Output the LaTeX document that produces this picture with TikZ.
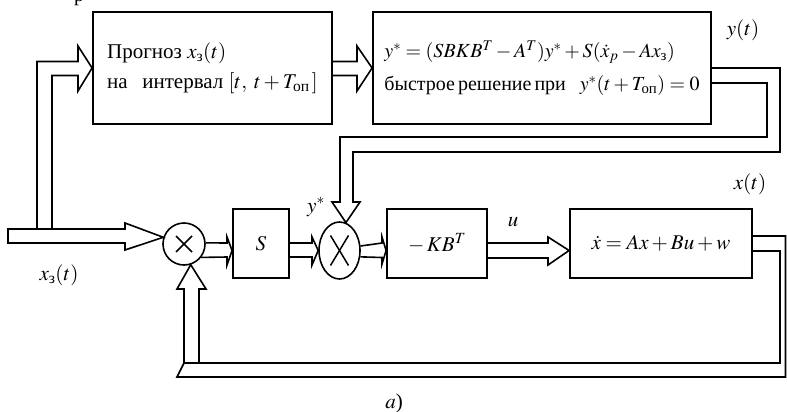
\documentclass[tikz,border=0pt]{standalone}
\usepackage{amsmath}
\usepackage{mathptmx}
\usepackage{fontspec}
\setmainfont{Liberation Serif}
\usetikzlibrary{shapes.geometric,calc}
\begin{document}
\begin{tikzpicture}[x=1pt,y=-1pt,line join=miter,
  every node/.style={font=\fontsize{20}{31}\selectfont, inner sep=0pt},
  big/.style={font=\fontsize{21}{30}\selectfont},
  blk/.style={draw, rectangle, line width=1.8pt},
  band/.style={draw, line width=1.6pt},
  sym/.style={draw, line width=1.6pt}]
\useasboundingbox (0,0) rectangle (787,412);

% top fragment
\node[anchor=base] (frag) at (79,2) {р};

% blocks
\node[blk, big, minimum width=239pt, minimum height=112pt, align=left] (b1) at (212.5,68)
  {Прогноз $x_\text{з}(t)$\\на\;\, интервал $[t,\; t+T_\text{оп}\,]$};
\node[blk, minimum width=338pt, minimum height=112pt, align=left] (b2) at (542,68)
  {$y^*=(SBKB^T-A^T)y^*+S(\dot x_p-Ax_\text{з})$\\[2pt]{\spaceskip=0.15em быстрое решение при}\;\, $y^*(t+T_\text{оп})=0$};
\node[sym, circle, minimum size=42pt] (c1) at (184,244) {};
\node[blk, big, minimum width=56pt, minimum height=69pt] (S) at (261,243.5) {$S$};
\node[sym, ellipse, minimum width=41pt, minimum height=57pt] (e2) at (339.5,250.5) {};
\node[blk, big, minimum width=100pt, minimum height=69pt] (K) at (437,243.5) {$-\,KB^T$};
\node[blk, big, minimum width=182pt, minimum height=69pt] (P) at (661,243.5) {$\dot x = Ax+Bu+w$};

% multiplication signs
\draw[line width=1.5pt] ($(c1.center)+(-8,-8)$) -- ($(c1.center)+(8,8)$);
\draw[line width=1.5pt] ($(c1.center)+(-8,8)$) -- ($(c1.center)+(8,-8)$);
\draw[line width=1.5pt] ($(e2.center)+(-9,-15)$) -- ($(e2.center)+(9,15)$);
\draw[line width=1.5pt] ($(e2.center)+(-9,15)$) -- ($(e2.center)+(9,-15)$);

% input
\coordinate (in) at (8,236);
\draw[band] ($(in)+(0,-7)$) -- (125,229) -- (125,223) -- (c1.162) -- (125,250) -- (125,243) -- ($(in)+(0,7)$) -- cycle;
\draw[band] (37,229) -- (37,61.5) -- (78,61.5) -- (78,46) -- (b1.west) -- (78,91) -- (78,75.5) -- (52,75.5) -- (52,229);

% b1 -> b2
\draw[band] ($(b1.east)+(0,-6.5)$) -- (357,61.5) -- (357,46) -- (b2.west) -- (357,91) -- (357,75.5) -- ($(b1.east)+(0,7.5)$);

% b2 -> e2 (y*)
\draw[band] (b2.east) -- (780,68) -- (780,152) -- (353,152) -- (353,202) -- (360,202) -- (e2.77)
  -- (332,202) -- (340,202) -- (340,137) -- (767,137) -- (767,83) -- ($(b2.east)+(0,15)$);

% small arrows
\draw[band] (c1.3) -- (227,243) -- (227,237) -- ($(S.west)+(0,7)$) -- (227,265) -- (227,257) -- (c1.-38);
\draw[band] ($(S.east)+(0,-0.5)$) -- (312,243) -- (312,237) -- (e2.west) -- (312,265) -- (312,257) -- ($(S.east)+(0,13.5)$);
\draw[band] (e2.12) -- (382,243) -- (382,237) -- ($(K.west)+(0,7)$) -- (382,264) -- (382,257.5) -- (e2.-17);
\draw[band] ($(K.east)+(0,-0.5)$) -- (548,243) -- (548,237) -- ($(P.west)+(0,7)$) -- (548,265) -- (548,258) -- ($(K.east)+(0,14.5)$);

% feedback
\draw[band] ($(P.east)+(0,-7.5)$) -- (785.5,236) -- (785.5,377) -- (177,377) -- (184,363) -- (184,289)
  -- (177,289) -- (c1.-72) -- (206,289) -- (199,289) -- (199,363);
\draw[band] (184,363) -- (780,363) -- (780,251) -- ($(P.east)+(0,7.5)$);

% labels
\node[big] (ly) at (743,30) {$y(t)$};
\node[big] (lx) at (750,184) {$x(t)$};
\node[big] (lu) at (513,222) {$u$};
\node[big] (lys) at (316,207) {$y^*$};
\node[big] (lxz) at (59,275) {$x_\text{з}(t)$};
\node[big] (la) at (394,403) {$a$)};
\end{tikzpicture}
\end{document}
